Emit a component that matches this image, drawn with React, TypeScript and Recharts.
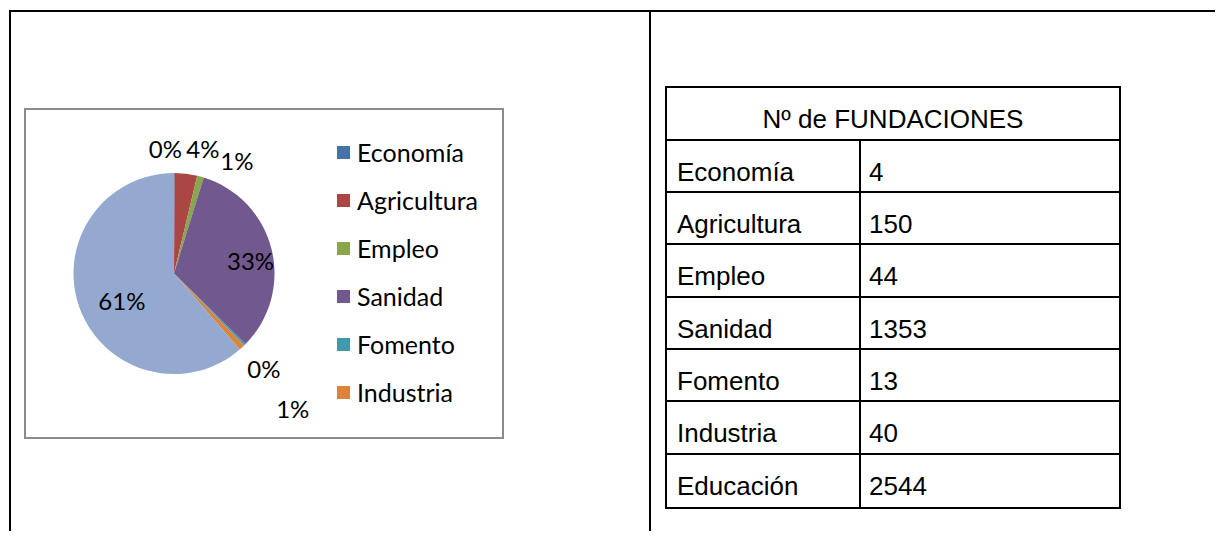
import React from 'react';
import { PieChart, Pie, Cell, Legend } from 'recharts';

const categories = ['Economía', 'Agricultura', 'Empleo', 'Sanidad', 'Fomento', 'Industria', 'Educación'];
const values = [4, 150, 44, 1353, 13, 40, 2544];
const colors = ['#4572A7', '#AA4643', '#89A54E', '#71588F', '#4198AF', '#DB843D', '#93A9CF'];
const tableTitle = 'Nº de FUNDACIONES';
// label placement (Excel best-fit imitation): distance as a factor of radius, clockwise nudge in degrees
const labelDistance = [1.23, 1.26, 1.27, 0.77, 1.31, 1.8, 0.59];
const labelNudge = [-4.2, 6.3, 14.2, 5.6, 1.8, 1.5, -8.1];
const legendVisibleCount = 6;

const data = categories.map((name, i) => ({ name, value: values[i] }));

const RAD = Math.PI / 180;
const LABEL_FONT = 'Lato, "Open Sans", sans-serif';

const renderLabel = (props: any) => {
  const { cx, cy, midAngle, outerRadius, percent, index } = props;
  const a = (midAngle - labelNudge[index]) * RAD;
  const r = outerRadius * labelDistance[index];
  const x = cx + r * Math.cos(a);
  const y = cy - r * Math.sin(a) - 1.5;
  return (
    <text x={x} y={y} textAnchor="middle" dominantBaseline="central" fill="#000"
      style={{ fontFamily: LABEL_FONT, fontSize: 24 }}>
      {Math.round(percent * 100) + '%'}
    </text>
  );
};

const renderLegend = (props: any) => {
  const raw = props.payload && props.payload.length ? props.payload : categories.map((c, i) => ({ value: c, color: colors[i] }));
  const payload = [...raw].sort((a: any, b: any) => categories.indexOf(a.value) - categories.indexOf(b.value));
  return (
    <div style={{ fontFamily: LABEL_FONT, fontSize: 25, color: '#000' }}>
      {payload.slice(0, legendVisibleCount).map((p: any, i: number) => (
        <div key={i} style={{ display: 'flex', alignItems: 'center', height: 48 }}>
          <span style={{ display: 'inline-block', width: 13, height: 13, background: p.color, marginRight: 7 }} />
          <span style={{ lineHeight: '48px' }}>{p.value}</span>
        </div>
      ))}
    </div>
  );
};

const rowHeights = [53, 52, 52, 53, 52, 52, 53, 54];

export default function App() {
  return (
    <div style={{ position: 'relative', width: 1207, height: 523 }}>
      {/* outer document table lines */}
      <div style={{ position: 'absolute', left: 1, top: 2, width: 1214, height: 2, background: '#000' }} />
      <div style={{ position: 'absolute', left: 1, top: 2, width: 2, height: 529, background: '#000' }} />
      <div style={{ position: 'absolute', left: 641, top: 2, width: 2, height: 529, background: '#000' }} />

      {/* chart area */}
      <div style={{ position: 'absolute', left: 16, top: 100, width: 480, height: 331, overflow: 'hidden', background: '#fff' }}>
        <PieChart width={480} height={331} margin={{ top: 0, right: 0, bottom: 0, left: 0 }}>
          <Pie
            data={data}
            dataKey="value"
            nameKey="name"
            cx={150}
            cy={165.5}
            outerRadius={100.5}
            startAngle={90}
            endAngle={-270}
            stroke="none"
            isAnimationActive={false}
            label={renderLabel}
            labelLine={false}
          >
            {data.map((d, i) => (
              <Cell key={d.name} fill={colors[i]} />
            ))}
          </Pie>
          <Legend
            layout="vertical"
            align="right"
            verticalAlign="top"
            content={renderLegend}
            wrapperStyle={{ left: 313, top: 20, width: 165, height: 48 * legendVisibleCount, overflow: 'hidden' }}
          />
        </PieChart>
        <div style={{ position: 'absolute', left: 0, top: 0, width: 480, height: 331, boxSizing: 'border-box', border: '2px solid #8c8c8c', pointerEvents: 'none' }} />
      </div>

      {/* data table */}
      <table style={{ position: 'absolute', left: 657, top: 78, width: 454, borderCollapse: 'collapse', tableLayout: 'fixed', fontFamily: '"Liberation Sans", Arial, sans-serif', fontSize: 26, color: '#000' }}>
        <colgroup>
          <col style={{ width: 194 }} />
          <col style={{ width: 260 }} />
        </colgroup>
        <tbody>
          <tr style={{ height: rowHeights[0] }}>
            <td colSpan={2} style={{ border: '2px solid #000', textAlign: 'center', verticalAlign: 'top', paddingTop: 18, lineHeight: '26px' }}>{tableTitle}</td>
          </tr>
          {categories.map((c, i) => (
            <tr key={c} style={{ height: rowHeights[i + 1] }}>
              <td style={{ border: '2px solid #000', verticalAlign: 'top', paddingTop: 18, paddingLeft: 10, lineHeight: '26px', whiteSpace: 'nowrap' }}>{c}</td>
              <td style={{ border: '2px solid #000', verticalAlign: 'top', paddingTop: 18, paddingLeft: 8, lineHeight: '26px' }}>{values[i]}</td>
            </tr>
          ))}
        </tbody>
      </table>
    </div>
  );
}
